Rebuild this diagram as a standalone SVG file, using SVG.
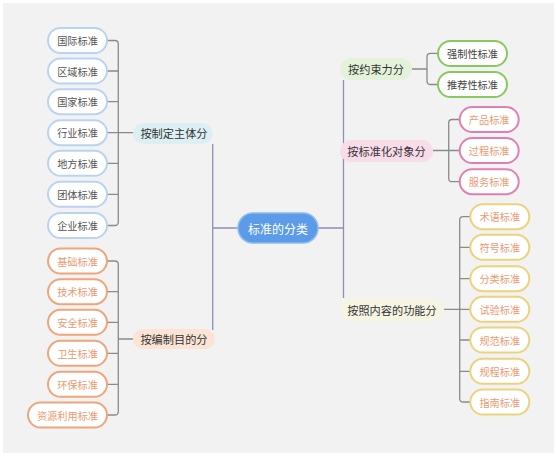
<svg xmlns="http://www.w3.org/2000/svg" width="557" height="458" viewBox="0 0 557 458">
<style>
text{font-family:"Noto Sans CJK SC","Noto Sans",sans-serif;text-anchor:middle;dominant-baseline:central}
.leaf{font-size:10.2px}
.cat{font-size:11.2px;fill:#333}
.br{fill:none;stroke:#8a8a8a;stroke-width:1.3}
.tr{fill:none;stroke:#8f8fb5;stroke-width:1.3}
.pb{fill:#fff;stroke:#b9d3f1;stroke-width:2}
.po{fill:#fff;stroke:#eea57a;stroke-width:2}
.pg{fill:#fff;stroke:#86c95e;stroke-width:2}
.pp{fill:#fff;stroke:#e07fb4;stroke-width:2}
.py{fill:#fff;stroke:#ead37c;stroke-width:2}
.tb{fill:#555}
.to{fill:#ea9a72}
.tg{fill:#444}
</style>
<rect x="0" y="0" width="557" height="458" fill="#fff"/>
<rect x="3" y="3" width="551" height="450" fill="#f2f2f2"/>
<g id="connectors">
<path class="tr" d="M212.7,144 V330 M212.7,228 H238 M318,228 H343.5 M343.5,80 V298"/>
<path class="br" d="M107,40.5 H114.8 Q118.3,40.5 118.3,44 V222 Q118.3,225.5 114.8,225.5 H107 M107,71 H118.3 M107,101.7 H118.3 M107,132.7 H133 M107,163.3 H118.3 M107,194.3 H118.3"/>
<path class="br" d="M107,261 H114.8 Q118.3,261 118.3,264.5 V411.5 Q118.3,415 114.8,415 H107 M107,291.7 H118.3 M107,322.3 H118.3 M107,353.3 H118.3 M107,384.3 H118.3 M118.3,339 H133"/>
<path class="br" d="M438,53.3 H430.5 Q427,53.3 427,56.8 V81 Q427,84.5 430.5,84.5 H438 M412,69 H427"/>
<path class="br" d="M459.7,119.5 H452.2 Q448.7,119.5 448.7,123 V178.2 Q448.7,181.7 452.2,181.7 H459.7 M433,150.5 H459.7"/>
<path class="br" d="M470.3,216.7 H463.2 Q459.7,216.7 459.7,220.2 V398.5 Q459.7,402 463.2,402 H470.3 M470.3,247.3 H459.7 M470.3,278.7 H459.7 M443.7,309.3 H470.3 M470.3,340 H459.7 M470.3,371.3 H459.7"/>
</g>
<g id="root">
<rect x="238" y="213" width="80" height="30" rx="15" fill="#5c9be8" stroke="#8fbcf0" stroke-width="1.5"/>
<text x="278" y="228" font-size="12" fill="#fff">标准的分类</text>
</g>
<g id="cat-zhuti"><rect x="133" y="123" width="80" height="21" rx="10.5" fill="#dcf0f3"/><text class="cat" x="174" y="133">按制定主体分</text></g>
<g id="cat-mudi"><rect x="133" y="329" width="82" height="20" rx="10" fill="#fbe4d6"/><text class="cat" x="174" y="339">按编制目的分</text></g>
<g id="cat-yueshu"><rect x="340" y="58" width="72" height="22" rx="11" fill="#e5f2da"/><text class="cat" x="376" y="69">按约束力分</text></g>
<g id="cat-duixiang"><rect x="340" y="140" width="93" height="22" rx="11" fill="#f9dcea"/><text class="cat" x="386.5" y="151">按标准化对象分</text></g>
<g id="cat-gongneng"><rect x="340" y="298" width="104" height="23" rx="11.5" fill="#f6f5e4"/><text class="cat" x="392" y="309.5">按照内容的功能分</text></g>
<g id="n-guoji"><rect class="pb" x="48" y="28" width="59" height="25" rx="12.5"/><text class="leaf tb" x="77.5" y="40.5">国际标准</text></g>
<g id="n-quyu"><rect class="pb" x="48" y="58.5" width="59" height="25" rx="12.5"/><text class="leaf tb" x="77.5" y="71">区域标准</text></g>
<g id="n-guojia"><rect class="pb" x="48" y="89.2" width="59" height="25" rx="12.5"/><text class="leaf tb" x="77.5" y="101.7">国家标准</text></g>
<g id="n-hangye"><rect class="pb" x="48" y="120.2" width="59" height="25" rx="12.5"/><text class="leaf tb" x="77.5" y="132.7">行业标准</text></g>
<g id="n-difang"><rect class="pb" x="48" y="150.8" width="59" height="25" rx="12.5"/><text class="leaf tb" x="77.5" y="163.3">地方标准</text></g>
<g id="n-tuanti"><rect class="pb" x="48" y="181.8" width="59" height="25" rx="12.5"/><text class="leaf tb" x="77.5" y="194.3">团体标准</text></g>
<g id="n-qiye"><rect class="pb" x="48" y="213" width="59" height="25" rx="12.5"/><text class="leaf tb" x="77.5" y="225.5">企业标准</text></g>
<g id="n-jichu"><rect class="po" x="48" y="248.5" width="59" height="25" rx="12.5"/><text class="leaf to" x="77.5" y="261">基础标准</text></g>
<g id="n-jishu"><rect class="po" x="48" y="279.2" width="59" height="25" rx="12.5"/><text class="leaf to" x="77.5" y="291.7">技术标准</text></g>
<g id="n-anquan"><rect class="po" x="48" y="309.8" width="59" height="25" rx="12.5"/><text class="leaf to" x="77.5" y="322.3">安全标准</text></g>
<g id="n-weisheng"><rect class="po" x="48" y="340.8" width="59" height="25" rx="12.5"/><text class="leaf to" x="77.5" y="353.3">卫生标准</text></g>
<g id="n-huanbao"><rect class="po" x="48" y="371.8" width="59" height="25" rx="12.5"/><text class="leaf to" x="77.5" y="384.3">环保标准</text></g>
<g id="n-ziyuan"><rect class="po" x="28" y="402.5" width="79" height="25" rx="12.5"/><text class="leaf to" x="67.5" y="415">资源利用标准</text></g>
<g id="n-qiangzhi"><rect class="pg" x="438" y="41" width="69" height="25" rx="12.5"/><text class="leaf tg" x="472.5" y="53.3">强制性标准</text></g>
<g id="n-tuijian"><rect class="pg" x="438" y="72" width="69" height="25" rx="12.5"/><text class="leaf tg" x="472.5" y="84.5">推荐性标准</text></g>
<g id="n-chanpin"><rect class="pp" x="459.7" y="107" width="59" height="25" rx="12.5"/><text class="leaf to" x="489.2" y="119.5">产品标准</text></g>
<g id="n-guocheng"><rect class="pp" x="459.7" y="138" width="59" height="25" rx="12.5"/><text class="leaf to" x="489.2" y="150.5">过程标准</text></g>
<g id="n-fuwu"><rect class="pp" x="459.7" y="169.2" width="59" height="25" rx="12.5"/><text class="leaf to" x="489.2" y="181.7">服务标准</text></g>
<g id="n-shuyu"><rect class="py" x="470.3" y="204.2" width="59" height="25" rx="12.5"/><text class="leaf to" x="499.8" y="216.7">术语标准</text></g>
<g id="n-fuhao"><rect class="py" x="470.3" y="234.8" width="59" height="25" rx="12.5"/><text class="leaf to" x="499.8" y="247.3">符号标准</text></g>
<g id="n-fenlei"><rect class="py" x="470.3" y="266.2" width="59" height="25" rx="12.5"/><text class="leaf to" x="499.8" y="278.7">分类标准</text></g>
<g id="n-shiyan"><rect class="py" x="470.3" y="296.8" width="59" height="25" rx="12.5"/><text class="leaf to" x="499.8" y="309.3">试验标准</text></g>
<g id="n-guifan"><rect class="py" x="470.3" y="327.5" width="59" height="25" rx="12.5"/><text class="leaf to" x="499.8" y="340">规范标准</text></g>
<g id="n-guicheng"><rect class="py" x="470.3" y="358.8" width="59" height="25" rx="12.5"/><text class="leaf to" x="499.8" y="371.3">规程标准</text></g>
<g id="n-zhinan"><rect class="py" x="470.3" y="389.5" width="59" height="25" rx="12.5"/><text class="leaf to" x="499.8" y="402">指南标准</text></g>
</svg>
